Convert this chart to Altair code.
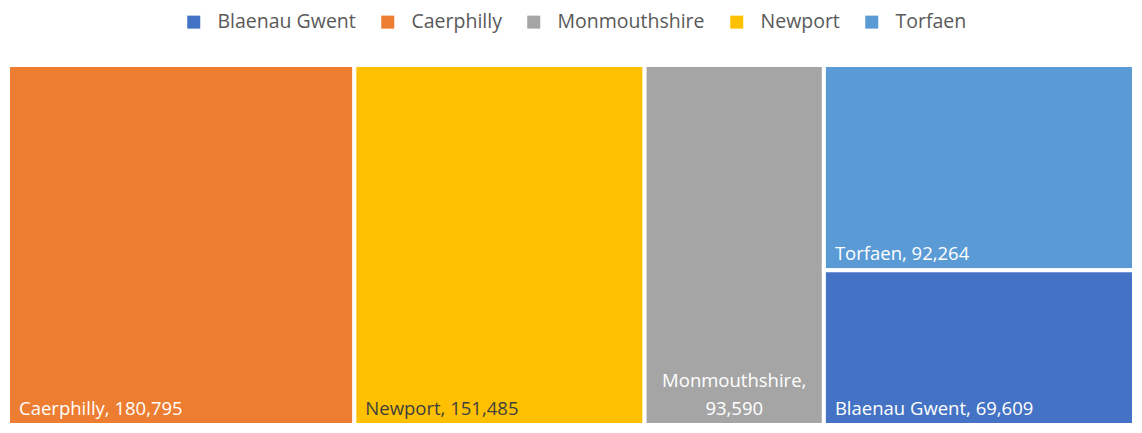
import altair as alt
import pandas as pd

names = ["Caerphilly", "Newport", "Monmouthshire", "Torfaen", "Blaenau Gwent"]
values = [180795, 151485, 93590, 92264, 69609]
columns = [0, 1, 2, 3, 3]
order_in_col = [0, 0, 0, 0, 1]
legend_order = ["Blaenau Gwent", "Caerphilly", "Monmouthshire", "Newport", "Torfaen"]
colors = ["#4472C4", "#ED7D31", "#A5A5A5", "#FFC000", "#5B9BD5"]
label_colors = ["white", "#404040", "white", "white", "white"]

df = pd.DataFrame({
    "name": names,
    "value": values,
    "col": columns,
    "ord": order_in_col,
    "lcolor": label_colors,
})

total = sum(values)

base = alt.Chart(df).transform_joinaggregate(
    col_total="sum(value)", groupby=["col"]
).transform_window(
    x1="sum(value)", sort=[alt.SortField("col")], frame=[None, 0], ignorePeers=False
).transform_calculate(
    x0="datum.x1 - datum.col_total",
    frac="datum.value / datum.col_total",
    xm="datum.x1 - datum.col_total / 2",
).transform_window(
    y1="sum(frac)", groupby=["col"], sort=[alt.SortField("ord")], frame=[None, 0]
).transform_calculate(
    y0="datum.y1 - datum.frac",
    label="datum.name + ', ' + format(datum.value, ',')",
    label2="datum.name + ',\\n' + format(datum.value, ',')",
)

xs = alt.Scale(domain=[0, total], nice=False, zero=True)
ys = alt.Scale(domain=[0, 1], nice=False, reverse=True)

rects = base.mark_rect(stroke="white", strokeWidth=4).encode(
    x=alt.X("x0:Q", scale=xs, axis=None),
    x2="x1:Q",
    y=alt.Y("y0:Q", scale=ys, axis=None),
    y2="y1:Q",
    color=alt.Color(
        "name:N",
        scale=alt.Scale(domain=legend_order, range=colors),
        legend=alt.Legend(
            title=None,
            orient="none",
            direction="horizontal",
            columns=5,
            legendX=176,
            legendY=-53,
            symbolType="square",
            symbolSize=169,
            symbolStrokeWidth=0,
            labelFont="Open Sans",
            labelFontSize=19.5,
            labelColor="#595959",
            labelOffset=14,
            columnPadding=22,
        ),
    ),
)

labels_left = base.transform_filter("datum.name != 'Monmouthshire'").mark_text(
    align="left", baseline="alphabetic", dx=11, dy=-10, font="Open Sans", fontSize=18.5
).encode(
    x=alt.X("x0:Q", scale=xs),
    y=alt.Y("y1:Q", scale=ys),
    text="label:N",
    color=alt.Color("lcolor:N", scale=None),
)

labels_center = base.transform_filter("datum.name == 'Monmouthshire'").mark_text(
    align="center", baseline="alphabetic", dy=-38, font="Open Sans", fontSize=18.5,
    lineBreak="\n", lineHeight=28
).encode(
    x=alt.X("xm:Q", scale=xs),
    y=alt.Y("y1:Q", scale=ys),
    text="label2:N",
    color=alt.Color("lcolor:N", scale=None),
)

chart = alt.layer(rects, labels_left, labels_center).properties(
    width=1126,
    height=360,
    padding={"left": 0, "top": 57, "right": 0, "bottom": 0},
    autosize=alt.AutoSizeParams(type="none"),
).configure_view(stroke=None).configure(background="white")

chart.save("out.html", embed_options={"renderer": "svg", "actions": False})
